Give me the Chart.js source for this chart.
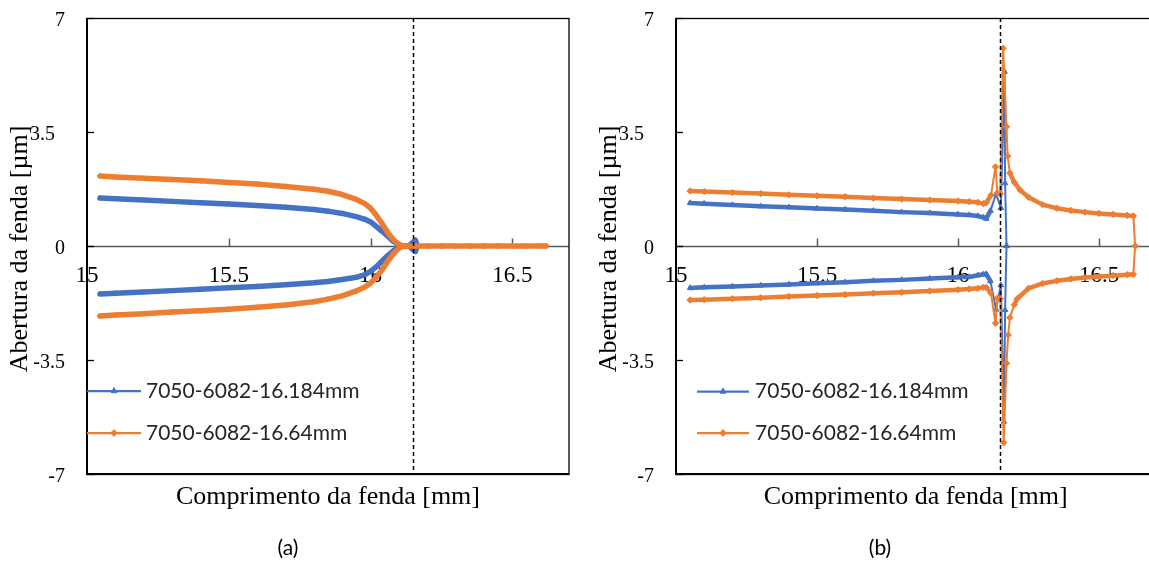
<!DOCTYPE html>
<html>
<head>
<meta charset="utf-8">
<script src="https://cdn.jsdelivr.net/npm/chart.js@4.4.0/dist/chart.umd.min.js"></script>
<style>
  html, body { margin: 0; padding: 0; background: #fff; overflow: hidden; width: 1149px; height: 571px; }
  .panel { position: absolute; top: 0; width: 580px; height: 571px; }
  #wrapA { left: 0; }
  #wrapB { left: 589px; }
  .caption { position: absolute; top: 534px; width: 100px; text-align: center; font: 21px Lato, sans-serif; color: #000; }
  #capA { left: 238px; }
  #capB { left: 830px; }
</style>
</head>
<body>
<div id="wrapA" class="panel"><canvas id="chartA" width="580" height="571"></canvas></div>
<div id="wrapB" class="panel"><canvas id="chartB" width="580" height="571"></canvas></div>
<div class="caption" id="capA">(a)</div>
<div class="caption" id="capB">(b)</div>
<script>
// ---- labels and axes ----
const seriesLabels = ['7050-6082-16.184mm', '7050-6082-16.64mm'];
const xTitle = 'Comprimento da fenda [mm]';
const yTitle = 'Abertura da fenda [µm]';
const xTicks = [15, 15.5, 16, 16.5];
const xTickLabels = ['15', '15.5', '16', '16.5'];
const yTicks = [-7, -3.5, 0, 3.5, 7];
const yTickLabels = ['-7', '-3.5', '0', '3.5  ', '7'];
const tipPosition = 16.15;   // crack tip position (dashed line), mm

// ---- panel (a): crack flanks, shared positions ----
const aFlankX      = [15.046, 15.1, 15.2, 15.3, 15.4, 15.5, 15.6, 15.7, 15.8, 15.85, 15.9, 15.95, 15.98, 16.0, 16.02, 16.04, 16.06, 16.08, 16.1, 16.114];
const aBlueUpper   = [1.47, 1.45, 1.41, 1.37, 1.33, 1.29, 1.24, 1.19, 1.12, 1.07, 1.0, 0.9, 0.82, 0.74, 0.6, 0.46, 0.31, 0.15, 0.04, 0];
const aBlueLower   = [-1.47, -1.45, -1.41, -1.37, -1.33, -1.28, -1.24, -1.19, -1.13, -1.09, -1.03, -0.96, -0.88, -0.78, -0.64, -0.47, -0.3, -0.15, -0.04, 0];
const aOrangeUpper = [2.15, 2.12, 2.08, 2.04, 2.0, 1.95, 1.9, 1.83, 1.74, 1.68, 1.58, 1.43, 1.3, 1.16, 0.95, 0.7, 0.42, 0.2, 0.05, 0];
const aOrangeLower = [-2.15, -2.12, -2.08, -2.03, -1.99, -1.94, -1.88, -1.81, -1.71, -1.63, -1.53, -1.38, -1.26, -1.14, -0.96, -0.74, -0.48, -0.24, -0.07, 0];
// ahead of the closure point
const aBlueTailX       = [16.135, 16.158, 16.165];
const aBlueTailUpper   = [0, 0.18, 0];
const aBlueTailLower   = [0, -0.17, 0];
const aOrangeTailX     = [16.15, 16.2, 16.25, 16.3, 16.35, 16.4, 16.45, 16.5, 16.55, 16.6, 16.619];
const aOrangeTailUpper = [0, 0, 0, 0, 0, 0, 0, 0, 0, 0, 0];
const aOrangeTailLower = [0, 0, 0, 0, 0, 0, 0, 0, 0, 0, 0];

// ---- panel (b): crack flanks, shared positions ----
const bFlankX      = [15.05, 15.1, 15.2, 15.3, 15.4, 15.5, 15.6, 15.7, 15.8, 15.9, 16.0, 16.04, 16.07, 16.09, 16.1];
const bBlueUpper   = [1.32, 1.30, 1.26, 1.22, 1.19, 1.15, 1.12, 1.08, 1.04, 1.01, 0.97, 0.95, 0.92, 0.88, 0.84];
const bBlueLower   = [-1.29, -1.27, -1.24, -1.21, -1.18, -1.14, -1.11, -1.07, -1.04, -1.0, -0.96, -0.95, -0.9, -0.87, -0.86];
const bOrangeUpper = [1.69, 1.67, 1.64, 1.61, 1.57, 1.54, 1.51, 1.47, 1.44, 1.41, 1.38, 1.36, 1.34, 1.30, 1.33];
const bOrangeLower = [-1.66, -1.65, -1.62, -1.59, -1.55, -1.52, -1.49, -1.45, -1.42, -1.38, -1.34, -1.32, -1.30, -1.27, -1.27];
// near-tip region
const bBlueTipUpperX   = [16.115, 16.135, 16.152, 16.165, 16.167, 16.172];
const bBlueTipUpper    = [1.08, 1.6, 1.17, 5.35, 1.93, 0];
const bBlueTipLowerX   = [16.115, 16.135, 16.152, 16.163, 16.167, 16.172];
const bBlueTipLower    = [-1.08, -1.95, -1.2, -5.39, -1.96, 0];
const bOrangeTipUpperX = [16.117, 16.133, 16.14, 16.15, 16.16, 16.172, 16.176, 16.184, 16.2, 16.22, 16.25, 16.3, 16.35, 16.4, 16.45, 16.5, 16.55, 16.6, 16.622, 16.628];
const bOrangeTipUpper  = [1.56, 2.43, 1.62, 1.6, 6.07, 3.66, 2.76, 2.24, 1.95, 1.72, 1.5, 1.27, 1.16, 1.09, 1.04, 1.0, 0.97, 0.94, 0.92, 0];
const bOrangeTipLowerX = [16.117, 16.133, 16.14, 16.15, 16.162, 16.172, 16.178, 16.184, 16.2, 16.21, 16.25, 16.3, 16.35, 16.4, 16.45, 16.5, 16.55, 16.6, 16.622, 16.628];
const bOrangeTipLower  = [-1.45, -2.37, -1.6, -1.62, -6.04, -3.6, -2.73, -2.2, -1.8, -1.62, -1.3, -1.15, -1.07, -1.01, -0.97, -0.94, -0.91, -0.88, -0.87, 0];

const BLUE = '#4472C4';
const ORANGE = '#ED7D31';

// upper flank left-to-right, then lower flank back right-to-left
function loopPath(xUp, yUp, xLow, yLow) {
  const pts = [];
  xUp.forEach((x, i) => pts.push({ x, y: yUp[i] }));
  for (let i = xLow.length - 1; i >= 0; i--) pts.push({ x: xLow[i], y: yLow[i] });
  return pts;
}

function line(ctx, x0, y0, x1, y1) {
  ctx.beginPath(); ctx.moveTo(x0, y0); ctx.lineTo(x1, y1); ctx.stroke();
}

const framePlugin = {
  id: 'frame',
  beforeDatasetsDraw(chart) {
    const { ctx, chartArea: a, scales: { x, y } } = chart;
    const y0 = Math.round(y.getPixelForValue(0)) + 0.5;
    ctx.save();
    ctx.strokeStyle = '#595959';
    ctx.lineWidth = 1.5;
    line(ctx, a.left, y0, a.right, y0);
    xTicks.forEach(v => {
      if (v > x.min) {
        const px = Math.round(x.getPixelForValue(v)) + 0.5;
        line(ctx, px, y0, px, y0 - 8);
      }
    });
    ctx.strokeStyle = '#000';
    ctx.lineWidth = 1.3;
    ctx.strokeRect(a.left, a.top + 0.5, a.right - a.left, a.bottom - a.top);
    ctx.lineWidth = 2;
    line(ctx, a.left, a.top, a.left, a.bottom + 1);
    line(ctx, a.left, a.bottom, a.right, a.bottom);
    ctx.lineWidth = 1.3;
    yTicks.forEach(v => {
      const py = Math.round(y.getPixelForValue(v)) + 0.5;
      line(ctx, a.left, py, a.left + 7, py);
    });
    ctx.restore();
  },
  afterDatasetsDraw(chart, args, o) {
    const { ctx, chartArea: a, scales: { x } } = chart;
    ctx.save();
    // crack tip marker
    const tx = Math.round(x.getPixelForValue(tipPosition)) + 0.5;
    ctx.strokeStyle = '#000';
    ctx.lineWidth = 1.5;
    ctx.setLineDash([4, 3]);
    line(ctx, tx, a.top, tx, a.bottom);
    ctx.setLineDash([]);

    // axis titles
    ctx.fillStyle = '#000';
    ctx.font = '26px "Liberation Serif"';
    ctx.textAlign = 'center';
    ctx.textBaseline = 'alphabetic';
    ctx.fillText(xTitle, (a.left + a.right) / 2, a.bottom + 29.5);
    ctx.save();
    ctx.translate(a.left - 60, (a.top + a.bottom) / 2 + 3);
    ctx.rotate(-Math.PI / 2);
    ctx.fillText(yTitle, 0, 0);
    ctx.restore();

    // legend: line with marker, then label
    const lg = o.legend;
    chart.data.datasets.forEach((ds, i) => {
      const ry = lg.rows[i];
      ctx.strokeStyle = ds.borderColor;
      ctx.fillStyle = ds.borderColor;
      ctx.lineWidth = 2.25;
      line(ctx, a.left + lg.x0, ry, a.left + lg.x1, ry);
      ctx.lineWidth = 1;
      Chart.helpers.drawPoint(ctx, { pointStyle: ds.pointStyle, radius: 3.4, rotation: 0, borderWidth: 1 },
        a.left + (lg.x0 + lg.x1) / 2, ry);
      ctx.fillStyle = '#262626';
      ctx.font = '21px Lato';
      ctx.textAlign = 'left';
      ctx.textBaseline = 'middle';
      ctx.fillText(ds.label, a.left + lg.tx, ry);
    });
    ctx.restore();
  }
};

// thin line on steep stretches where the markers are sparse, wide band where they crowd
const bandWidth = ctx => {
  const dx = Math.abs(ctx.p1.parsed.x - ctx.p0.parsed.x);
  const dy = Math.abs(ctx.p1.parsed.y - ctx.p0.parsed.y);
  return dy > 20 * dx ? 2 : 4.5;
};

function seriesStyle(i, width, radius, segment) {
  const color = i === 0 ? BLUE : ORANGE;
  const s = {
    label: seriesLabels[i],
    showLine: true,
    borderColor: color,
    backgroundColor: color,
    pointBackgroundColor: color,
    pointBorderColor: color,
    pointStyle: i === 0 ? 'triangle' : 'rectRot',
    pointRadius: radius,
    pointBorderWidth: 1,
    borderWidth: width,
    borderJoinStyle: 'round',
    borderCapStyle: 'round',
    order: i === 0 ? 1 : 0
  };
  if (segment) s.segment = { borderWidth: segment };
  return s;
}

function makeChart(id, datasets, padRight, legend) {
  return new Chart(document.getElementById(id), {
    type: 'scatter',
    data: { datasets },
    options: {
      responsive: false,
      animation: false,
      devicePixelRatio: 1,
      layout: { padding: { left: 0, top: 18, right: padRight, bottom: 97 } },
      plugins: { legend: { display: false }, tooltip: { enabled: false }, frame: { legend } },
      scales: {
        x: {
          type: 'linear', min: 15, max: 16.7, position: { y: 0 },
          grid: { display: false, drawTicks: false }, border: { display: false },
          afterBuildTicks: s => { s.ticks = xTicks.map(v => ({ value: v })); },
          afterFit: s => { s.paddingLeft = 0; s.paddingRight = 0; },
          ticks: {
            padding: 16, maxRotation: 0, autoSkip: false, color: '#000',
            font: { family: 'Liberation Serif', size: 23 },
            callback: v => xTickLabels[xTicks.indexOf(v)]
          }
        },
        y: {
          type: 'linear', min: -7, max: 7, position: 'left',
          afterFit: s => { s.width = 87; s.paddingTop = 0; s.paddingBottom = 0; },
          grid: { display: false, drawTicks: false }, border: { display: false },
          afterBuildTicks: s => { s.ticks = yTicks.map(v => ({ value: v })); },
          ticks: {
            padding: 22, labelOffset: 3, color: '#000',
            font: { family: 'Liberation Serif', size: 20 },
            callback: v => yTickLabels[yTicks.indexOf(v)]
          }
        }
      }
    },
    plugins: [framePlugin]
  });
}

makeChart('chartA', [
  Object.assign(seriesStyle(0, 5.5, 2.6), {
    data: loopPath(aFlankX.concat(aBlueTailX), aBlueUpper.concat(aBlueTailUpper),
                   aFlankX.concat(aBlueTailX), aBlueLower.concat(aBlueTailLower))
  }),
  Object.assign(seriesStyle(1, 5.5, 2.6), {
    data: loopPath(aFlankX.concat(aOrangeTailX), aOrangeUpper.concat(aOrangeTailUpper),
                   aFlankX.concat(aOrangeTailX), aOrangeLower.concat(aOrangeTailLower))
  })
], 11, { x0: 0, x1: 54, tx: 59, rows: [391, 433] });

makeChart('chartB', [
  Object.assign(seriesStyle(0, 2, 3.2, bandWidth), {
    data: loopPath(bFlankX.concat(bBlueTipUpperX), bBlueUpper.concat(bBlueTipUpper),
                   bFlankX.concat(bBlueTipLowerX), bBlueLower.concat(bBlueTipLower))
  }),
  Object.assign(seriesStyle(1, 2, 3.2, bandWidth), {
    data: loopPath(bFlankX.concat(bOrangeTipUpperX), bOrangeUpper.concat(bOrangeTipUpper),
                   bFlankX.concat(bOrangeTipLowerX), bOrangeLower.concat(bOrangeTipLower))
  })
], 13.6, { x0: 21, x1: 73, tx: 79, rows: [391.5, 433] });
</script>
</body>
</html>
